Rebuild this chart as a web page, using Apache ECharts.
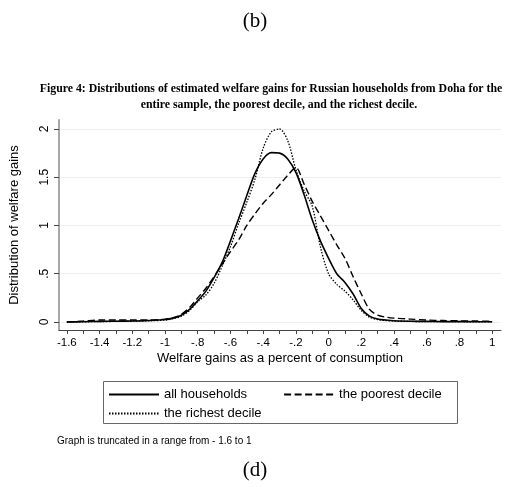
<!DOCTYPE html>
<html>
<head>
<meta charset="utf-8">
<script src="https://cdn.jsdelivr.net/npm/echarts@6/dist/echarts.min.js"></script>
<style>
  html, body { margin: 0; padding: 0; background: #fff; }
  #chart { width: 510px; height: 487px; }
</style>
</head>
<body>
<div id="chart"></div>
<script>
// welfare gain grid (share of consumption)
const gains = [-1.6, -1.5, -1.4, -1.3, -1.2, -1.1, -1.0, -0.95, -0.9, -0.85, -0.8, -0.75, -0.7, -0.65,
  -0.6, -0.55, -0.5, -0.45, -0.4, -0.35, -0.3, -0.25, -0.2, -0.15, -0.1, -0.05, 0, 0.05, 0.1, 0.15,
  0.2, 0.25, 0.3, 0.35, 0.4, 0.5, 0.6, 0.7, 0.8, 0.9, 1.0];

const allHouseholds = [0, 0.003, 0.006, 0.008, 0.01, 0.015, 0.025, 0.04, 0.07, 0.13, 0.22, 0.32, 0.46, 0.62,
  0.84, 1.07, 1.31, 1.54, 1.69, 1.755, 1.75, 1.69, 1.55, 1.32, 1.06, 0.84, 0.66, 0.5, 0.41, 0.29,
  0.14, 0.06, 0.03, 0.02, 0.013, 0.008, 0.006, 0.004, 0.004, 0.003, 0.002];

const poorestDecile = [0, 0.01, 0.02, 0.02, 0.02, 0.02, 0.03, 0.045, 0.08, 0.15, 0.25, 0.35, 0.47, 0.6,
  0.73, 0.85, 1.0, 1.12, 1.23, 1.32, 1.42, 1.52, 1.6, 1.43, 1.25, 1.1, 0.95, 0.8, 0.66, 0.47,
  0.29, 0.13, 0.07, 0.05, 0.04, 0.03, 0.02, 0.015, 0.012, 0.01, 0.008];

const richestDecile = [0, 0.002, 0.004, 0.006, 0.008, 0.012, 0.02, 0.035, 0.06, 0.12, 0.21, 0.28, 0.4, 0.58,
  0.78, 1.02, 1.24, 1.48, 1.8, 1.97, 2.0, 1.88, 1.58, 1.36, 1.2, 0.78, 0.5, 0.39, 0.32, 0.23,
  0.12, 0.05, 0.025, 0.015, 0.01, 0.006, 0.004, 0.003, 0.003, 0.002, 0.002];

const xLabelTicks = [-1.6, -1.4, -1.2, -1, -0.8, -0.6, -0.4, -0.2, 0, 0.2, 0.4, 0.6, 0.8, 1];
const xMinorTicks = [-1.6, -1.5, -1.4, -1.3, -1.2, -1.1, -1, -0.9, -0.8, -0.7, -0.6, -0.5, -0.4, -0.3,
  -0.2, -0.1, 0, 0.1, 0.2, 0.3, 0.4, 0.5, 0.6, 0.7, 0.8, 0.9, 1];
const yTicks = [0, 0.5, 1, 1.5, 2];

const SANS = '"Liberation Sans", Arial, sans-serif';
const SERIF = '"Liberation Serif", "Times New Roman", serif';

// Stata style: drop the leading zero (".5", "-.8")
function stataNum(v) {
  const r = Math.round(v * 10) / 10;
  return String(r).replace(/^(-?)0\./, '$1.');
}

function pairs(ys) {
  return gains.map((g, i) => [g, ys[i]]);
}

function curve(name, ys, type, width) {
  return {
    name: name,
    type: 'line',
    data: pairs(ys),
    symbol: 'none',
    showSymbol: false,
    smooth: 0.3,
    lineStyle: { color: '#000', width: width, type: type },
    itemStyle: { color: '#000' },
    emphasis: { disabled: true }
  };
}

const legendText = { fontFamily: SANS, fontSize: 13, color: '#000' };
// line-only keys, no marker on them
const legendMarker = { color: 'rgba(0,0,0,0)', borderWidth: 0, opacity: 0 };

const option = {
  backgroundColor: '#fff',
  animation: false,
  title: [
    { text: '(b)', left: 'center', top: 6,
      textStyle: { fontFamily: SERIF, fontSize: 21, fontWeight: 'normal', color: '#000' } },
    { text: 'Figure 4: Distributions of estimated welfare gains for Russian households from Doha for the',
      left: 266, textAlign: 'center', top: 78,
      textStyle: { fontFamily: SERIF, fontSize: 11.8, fontWeight: 'bold', color: '#000' } },
    { text: 'entire sample, the poorest decile, and the richest decile.',
      left: 274, textAlign: 'center', top: 94,
      textStyle: { fontFamily: SERIF, fontSize: 11.8, fontWeight: 'bold', color: '#000' } },
    { text: 'Graph is truncated in a range from - 1.6 to 1', left: 52, top: 431,
      textStyle: { fontFamily: SANS, fontSize: 10, fontWeight: 'normal', color: '#000' } },
    { text: '(d)', left: 'center', top: 455,
      textStyle: { fontFamily: SERIF, fontSize: 21, fontWeight: 'normal', color: '#000' } }
  ],
  grid: { left: 54, right: 9, top: 120, bottom: 157 },
  xAxis: {
    type: 'value',
    min: -1.648,
    max: 1.054,
    name: 'Welfare gains as a percent of consumption',
    nameLocation: 'middle',
    nameGap: 22,
    nameTextStyle: { fontFamily: SANS, fontSize: 13, color: '#000' },
    axisLine: { show: true, onZero: false, lineStyle: { color: '#444', width: 1 } },
    axisTick: { show: true, length: 4, customValues: xMinorTicks, lineStyle: { color: '#444' } },
    axisLabel: { customValues: xLabelTicks, formatter: stataNum, margin: 7,
      fontFamily: SANS, fontSize: 11.5, color: '#000' },
    splitLine: { show: false }
  },
  yAxis: {
    type: 'value',
    min: -0.083,
    max: 2.093,
    name: 'Distribution of welfare gains',
    nameLocation: 'middle',
    nameGap: 38,
    nameRotate: 90,
    nameTextStyle: { fontFamily: SANS, fontSize: 13, color: '#000' },
    axisLine: { show: true, onZero: false, lineStyle: { color: '#a8a8a8', width: 2 } },
    axisTick: { show: true, length: 5, customValues: yTicks, lineStyle: { color: '#444' } },
    axisLabel: { customValues: yTicks, formatter: stataNum, rotate: 90, margin: 8,
      fontFamily: SANS, fontSize: 12, color: '#000' },
    splitLine: { show: true, lineStyle: { color: '#eeeeee', width: 1 } }
  },
  legend: [
    { data: ['all households', 'the poorest decile'], left: 103, top: 383, itemWidth: 50, itemHeight: 12,
      itemGap: 36, itemStyle: legendMarker, textStyle: legendText, selectedMode: false },
    { data: ['the richest decile'], left: 103, top: 402, itemWidth: 50, itemHeight: 12,
      itemStyle: legendMarker, textStyle: legendText, selectedMode: false }
  ],
  graphic: [
    { type: 'rect', left: 101, top: 379, shape: { width: 354, height: 42 },
      style: { fill: 'none', stroke: '#666', lineWidth: 1 }, silent: true }
  ],
  series: [
    curve('all households', allHouseholds, 'solid', 1.6),
    curve('the poorest decile', poorestDecile, [7, 3.5], 1.4),
    curve('the richest decile', richestDecile, [1.5, 1.5], 1.3)
  ]
};

const chart = echarts.init(document.getElementById('chart'), null, { renderer: 'canvas' });
chart.setOption(option);
</script>
</body>
</html>
